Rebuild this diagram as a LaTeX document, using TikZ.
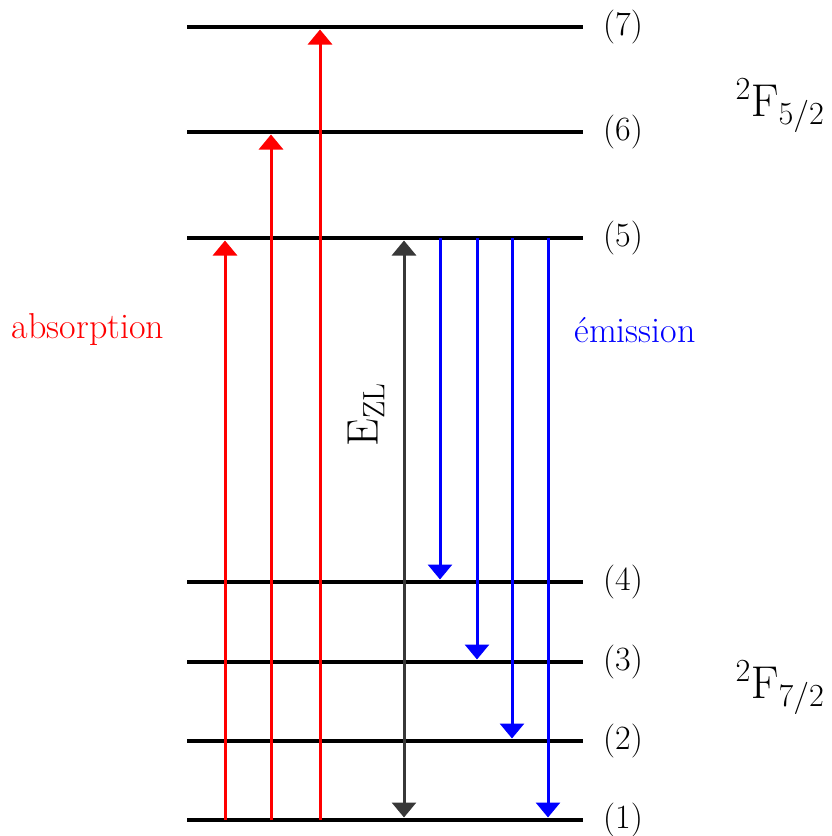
\RequirePackage{fix-cm}
\documentclass[tikz,border=0pt]{standalone}
\usetikzlibrary{arrows.meta}
\begin{document}
\begin{tikzpicture}[x=1pt,y=-1pt,
  level/.style={line width=4.5pt,black},
  redarr/.style={line width=3pt,red,-{Triangle[length=15pt,width=24pt]}},
  bluearr/.style={line width=3pt,blue,-{Triangle[length=15pt,width=24pt]}},
  zlarr/.style={line width=3pt,black!78,{Triangle[length=15pt,width=24pt]}-{Triangle[length=15pt,width=24pt]}},
  lvllabel/.style={anchor=west,inner sep=0pt,font=\fontsize{34}{38}\selectfont},
  statelabel/.style={inner sep=0pt,font=\fontsize{46}{52}\selectfont},
  sidelabel/.style={inner sep=0pt,font=\fontsize{36}{40}\selectfont}]
\useasboundingbox (0,0) rectangle (832,836);
% level lines
\foreach \n/\y in {7/27,6/132,5/238,4/582,3/662,2/741,1/820}{
  \coordinate (L\n a) at (187,\y);
  \coordinate (L\n b) at (583,\y);
  \draw[level] (L\n a) -- (L\n b);
  \node[lvllabel] (lab\n) at (603,\y) {(\n)};
}
% absorption arrows
\coordinate (ra1) at (225,820); \coordinate (ra2) at (225,240.5);
\coordinate (rb1) at (271,820); \coordinate (rb2) at (271,134.5);
\coordinate (rc1) at (320,820); \coordinate (rc2) at (320,29.5);
\draw[redarr] (ra1) -- (ra2);
\draw[redarr] (rb1) -- (rb2);
\draw[redarr] (rc1) -- (rc2);
% zero-line energy
\coordinate (z1) at (404,240.5); \coordinate (z2) at (404,817.5);
\draw[zlarr] (z1) -- (z2);
\node[statelabel,rotate=90,font=\fontsize{44}{50}\selectfont] (ezl) at (366,415) {$\mathrm{E}_{\mathrm{ZL}}$};
% emission arrows
\coordinate (ba1) at (440,238); \coordinate (ba2) at (440,579.5);
\coordinate (bb1) at (477,238); \coordinate (bb2) at (477,659.5);
\coordinate (bc1) at (512,238); \coordinate (bc2) at (512,738.5);
\coordinate (bd1) at (548,238); \coordinate (bd2) at (548,817.5);
\draw[bluearr] (ba1) -- (ba2);
\draw[bluearr] (bb1) -- (bb2);
\draw[bluearr] (bc1) -- (bc2);
\draw[bluearr] (bd1) -- (bd2);
% labels
\node[sidelabel,red] (abs) at (88,330) {absorption};
\node[sidelabel,blue] (emi) at (635,330) {émission};
\node[statelabel] (f52) at (780,106) {$^{2}\mathrm{F}_{5/2}$};
\node[statelabel] (f72) at (780,688) {$^{2}\mathrm{F}_{7/2}$};
\end{tikzpicture}
\end{document}
